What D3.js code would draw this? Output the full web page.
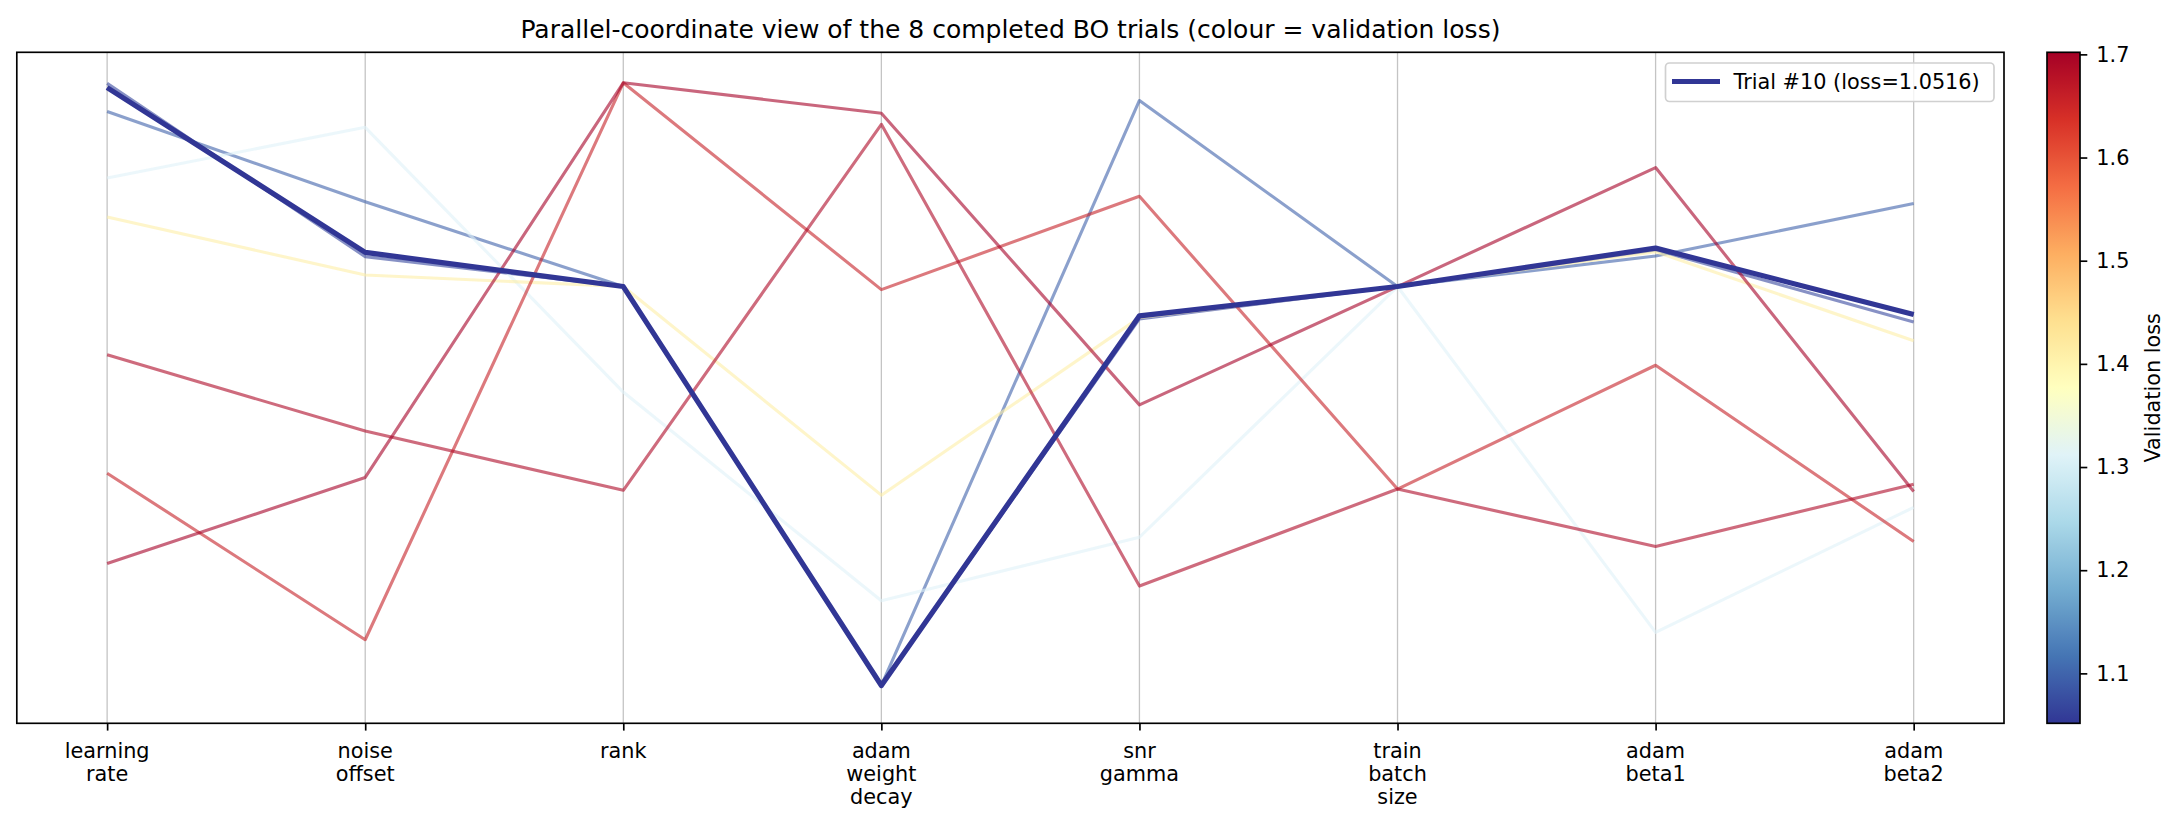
<!DOCTYPE html>
<html lang="en">
<head>
  <meta charset="UTF-8">
  <title>Parallel coordinates of BO trials</title>
  <script src="https://d3js.org/d3.v7.min.js"></script>
  <style>
    body { margin: 0; background: #fff; }
    svg { display: block; font-family: "DejaVu Sans", sans-serif; }
  </style>
</head>
<body>
  <svg id="chart" width="2184" height="824"></svg>
  <script>
    // hyper-parameter axes, left to right
    const axisLabels = [
      "learning\nrate", "noise\noffset", "rank", "adam\nweight\ndecay",
      "snr\ngamma", "train\nbatch\nsize", "adam\nbeta1", "adam\nbeta2"
    ];

    // validation loss per trial (drives the colour)
    const trialLoss = [1.0516, 1.07, 1.095, 1.31, 1.41, 1.66, 1.69, 1.702];

    // normalised value of each trial on each axis (same order as axisLabels)
    const trialValues = [
      [0.992, 0.722, 0.666, 0.012, 0.618, 0.666, 0.729, 0.620],
      [0.999, 0.715, 0.666, 0.012, 0.613, 0.666, 0.726, 0.608],
      [0.953, 0.805, 0.666, 0.012, 0.971, 0.666, 0.716, 0.802],
      [0.844, 0.927, 0.493, 0.151, 0.255, 0.666, 0.099, 0.304],
      [0.780, 0.685, 0.666, 0.324, 0.615, 0.666, 0.723, 0.577],
      [0.360, 0.087, 1.000, 0.661, 0.814, 0.334, 0.537, 0.248],
      [0.554, 0.429, 0.332, 0.932, 0.175, 0.334, 0.240, 0.342],
      [0.212, 0.353, 1.000, 0.950, 0.472, 0.666, 0.861, 0.330]
    ];

    const bestIndex = 0;
    const bestLabel = "Trial #10 (loss=1.0516)";
    const cbarTicks = [1.1, 1.2, 1.3, 1.4, 1.5, 1.6, 1.7];
    const lossExtent = [1.0516, 1.702];

    const svg = d3.select("#chart");
    const plot = { left: 16.8, right: 2004, top: 52.3, bottom: 723.3 };
    const cbar = { left: 2047, right: 2080 };

    const x = d3.scaleLinear().domain([-0.35, axisLabels.length - 1 + 0.35]).range([plot.left, plot.right]);
    const y = d3.scaleLinear().domain([-0.05, 1.05]).range([plot.bottom, plot.top]);

    // matplotlib RdYlBu_r: linear between the 11 brewer colours
    const brewer = d3.schemeRdYlBu[11].slice().reverse();
    const colorScale = d3.scaleLinear()
      .domain(d3.range(11).map(i => lossExtent[0] + i / 10 * (lossExtent[1] - lossExtent[0])))
      .range(brewer)
      .clamp(true);

    svg.append("rect").attr("width", 2184).attr("height", 824).attr("fill", "#fff");

    // title
    svg.append("text")
      .attr("x", (plot.left + plot.right) / 2)
      .attr("y", 37.5)
      .attr("text-anchor", "middle")
      .style("font-size", "25px")
      .text("Parallel-coordinate view of the 8 completed BO trials (colour = validation loss)");

    // vertical axis lines
    svg.append("g").selectAll("line")
      .data(axisLabels)
      .join("line")
      .attr("x1", (d, i) => x(i)).attr("x2", (d, i) => x(i))
      .attr("y1", plot.top).attr("y2", plot.bottom)
      .attr("stroke", "#c4c4c4")
      .attr("stroke-width", 1.3);

    const line = d3.line()
      .x((d, i) => x(i))
      .y(d => y(d));

    // all trials, semi-transparent
    svg.append("g").selectAll("path")
      .data(trialValues)
      .join("path")
      .attr("d", line)
      .attr("fill", "none")
      .attr("stroke", (d, i) => colorScale(trialLoss[i]))
      .attr("stroke-opacity", 0.6)
      .attr("stroke-width", 3.1)
      .attr("stroke-linejoin", "round");

    // best trial on top
    svg.append("path")
      .attr("d", line(trialValues[bestIndex]))
      .attr("fill", "none")
      .attr("stroke", colorScale(trialLoss[bestIndex]))
      .attr("stroke-width", 5.2)
      .attr("stroke-linejoin", "round");

    // frame
    svg.append("rect")
      .attr("x", plot.left).attr("y", plot.top)
      .attr("width", plot.right - plot.left).attr("height", plot.bottom - plot.top)
      .attr("fill", "none").attr("stroke", "#000").attr("stroke-width", 1.67);

    // x axis with multi-line labels
    const xAxis = svg.append("g")
      .attr("transform", `translate(0,${plot.bottom})`)
      .call(d3.axisBottom(x).tickValues(d3.range(axisLabels.length)).tickSize(7.3).tickFormat(""));
    xAxis.select(".domain").remove();
    xAxis.selectAll(".tick line").attr("stroke", "#000").attr("stroke-width", 1.67);

    const labelText = svg.append("g").selectAll("text")
      .data(axisLabels)
      .join("text")
      .attr("text-anchor", "middle")
      .style("font-size", "20.8px");
    labelText.each(function (d, i) {
      d3.select(this).selectAll("tspan")
        .data(d.split("\n"))
        .join("tspan")
        .attr("x", x(i))
        .attr("y", (s, k) => 757.5 + k * 23)
        .text(s => s);
    });

    // legend
    const lg = svg.append("g");
    lg.append("rect")
      .attr("x", 1665.5).attr("y", 63).attr("width", 328.5).attr("height", 38.5)
      .attr("rx", 4)
      .attr("fill", "#fff").attr("fill-opacity", 0.8)
      .attr("stroke", "#d0d0d0").attr("stroke-width", 1.67);
    lg.append("line")
      .attr("x1", 1672).attr("x2", 1720).attr("y1", 81.5).attr("y2", 81.5)
      .attr("stroke", colorScale(trialLoss[bestIndex])).attr("stroke-width", 5.2);
    lg.append("text")
      .attr("x", 1733.5).attr("y", 88.5)
      .style("font-size", "20.8px")
      .text(bestLabel);

    // colour bar
    const cy = d3.scaleLinear().domain(lossExtent).range([plot.bottom, plot.top]);
    const grad = svg.append("defs").append("linearGradient")
      .attr("id", "cbarGrad")
      .attr("x1", "0%").attr("x2", "0%").attr("y1", "100%").attr("y2", "0%");
    grad.selectAll("stop")
      .data(d3.range(0, 1.0001, 0.02))
      .join("stop")
      .attr("offset", t => (t * 100) + "%")
      .attr("stop-color", t => colorScale(lossExtent[0] + t * (lossExtent[1] - lossExtent[0])));

    svg.append("rect")
      .attr("x", cbar.left).attr("y", plot.top)
      .attr("width", cbar.right - cbar.left).attr("height", plot.bottom - plot.top)
      .attr("fill", "url(#cbarGrad)")
      .attr("stroke", "#000").attr("stroke-width", 1.67);

    const cAxis = svg.append("g")
      .attr("transform", `translate(${cbar.right},0)`)
      .call(d3.axisRight(cy).tickValues(cbarTicks).tickFormat(d3.format(".1f")).tickSize(7.3).tickPadding(9));
    cAxis.select(".domain").remove();
    cAxis.selectAll(".tick line").attr("stroke", "#000").attr("stroke-width", 1.67);
    cAxis.selectAll(".tick text")
      .attr("fill", "#000")
      .style("font-family", "DejaVu Sans, sans-serif")
      .style("font-size", "20.8px");

    svg.append("text")
      .attr("transform", `translate(2153,${(plot.top + plot.bottom) / 2}) rotate(-90)`)
      .attr("text-anchor", "middle")
      .attr("dominant-baseline", "central")
      .style("font-size", "20.8px")
      .text("Validation loss");
  </script>
</body>
</html>
